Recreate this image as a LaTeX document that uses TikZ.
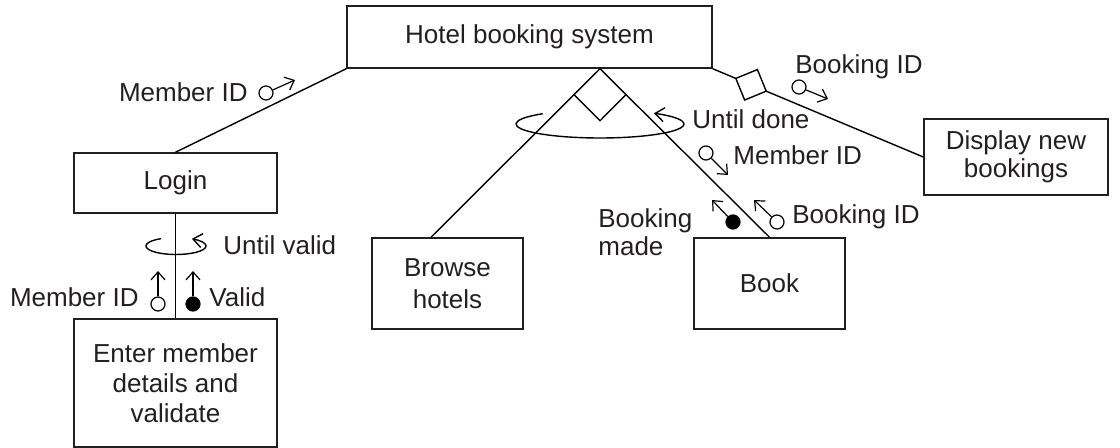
\documentclass[tikz,border=0pt]{standalone}
\usepackage{fontspec}
\setmainfont{Liberation Sans}
\usetikzlibrary{arrows.meta,calc}
\definecolor{ink}{HTML}{231F20}

\begin{document}
\begin{tikzpicture}[x=0.5pt,y=-0.5pt,
  every node/.style={font=\fontsize{13}{15}\selectfont, text=ink},
  box/.style={draw=ink, line width=0.75pt, align=center, inner sep=0pt},
  conn/.style={draw=black, line width=0.7pt},
  cplarrow/.style={line width=0.6pt, -{Straight Barb[length=4pt,width=7pt]}},
  opencpl/.style={circle, draw=black, line width=0.6pt, fill=white, minimum size=7pt, inner sep=0pt},
  fillcpl/.style={opencpl, fill=black},
  lbl/.style={inner sep=0pt},
  looparrow/.style={line width=0.7pt, -{Straight Barb[length=4.5pt,width=7pt]}},
]
\useasboundingbox (0,0) rectangle (1120,448);

% modules
\node[box, minimum width=182.5pt, minimum height=31pt] (hbs) at (529.5,37) {Hotel booking system};
\node[box, minimum width=101.5pt, minimum height=30pt] (login) at (175.5,183) {Login};
\node[box, minimum width=101.5pt, minimum height=64pt] (enter) at (175.5,383) {Enter member\\details and\\validate};
\node[box, minimum width=75.5pt, minimum height=45.5pt, font=\fontsize{13}{16}\selectfont] (browse) at (447.5,283.5) {Browse\\hotels};
\node[box, minimum width=75.5pt, minimum height=45.5pt] (book) at (769.5,283.5) {Book};
\node[box, minimum width=92pt, minimum height=38pt, font=\fontsize{13}{14}\selectfont] (display) at (1016,157) {Display new\\bookings};

% calls
\draw[conn] (hbs.south west) -- (login.north);
\draw[conn] (login.south) -- (enter.north);

% selection under the main module
\coordinate (apex) at ([xshift=35.25pt]hbs.south);
\coordinate (browsetop) at ([xshift=-8.25pt]browse.north);
\draw[conn] (browsetop) -- (apex) -- (book.north);
\draw[conn] ($(apex)!0.1535!(browsetop)$) -- ($(apex)+(0,52)$) -- ($(apex)!0.1535!(book.north)$);

% repetition loops
\coordinate (loopc) at (600,124);
\draw[looparrow] ([shift={(133:42pt and 7pt)}]loopc) arc[start angle=133, end angle=410, x radius=42pt, y radius=7pt];
\coordinate (loopv) at (176,246);
\draw[looparrow] ([shift={(120:15pt and 4.25pt)}]loopv) arc[start angle=120, end angle=418, x radius=15pt, y radius=4.25pt];

% selection on the display call
\coordinate (sA) at ($(hbs.south east)!12.5pt!(display.west)$);
\coordinate (sM) at ($(hbs.south east)!20.75pt!(display.west)$);
\coordinate (sC) at ($(hbs.south east)!29pt!(display.west)$);
\coordinate (sB) at ($(sM)!8.25pt!90:(sC)$);
\coordinate (sD) at ($(sM)!8.25pt!-90:(sC)$);
\draw[conn] (hbs.south east) -- (sA);
\draw[conn] (sA) -- (sB) -- (sC) -- (sD) -- cycle;
\draw[conn] (sC) -- (display.west);

% data and control couples
\node[opencpl] (c1) at (266,93) {};
\coordinate (c1t) at (295,80);
\draw[cplarrow] (c1) -- (c1t);
\node[lbl, anchor=base east] (l1) at (248,102) {Member ID};

\node[opencpl] (c2) at (158,304) {};
\coordinate (c2t) at (158,271);
\draw[cplarrow] (c2) -- (c2t);
\node[lbl, anchor=base east] (l2) at (139,307) {Member ID};

\node[fillcpl] (c3) at (193,304) {};
\coordinate (c3t) at (193,271);
\draw[cplarrow] (c3) -- (c3t);
\node[lbl, anchor=base west] (l3) at (209,307) {Valid};

\node[lbl, anchor=base west] (l4) at (223,255) {Until valid};
\node[lbl, anchor=base west] (l5) at (692,129) {Until done};

\node[opencpl] (c4) at (799,87) {};
\coordinate (c4t) at (828,99);
\draw[cplarrow] (c4) -- (c4t);
\node[lbl, anchor=base west] (l6) at (795,74) {Booking ID};

\node[opencpl] (c5) at (706,153) {};
\coordinate (c5t) at (728,175);
\draw[cplarrow] (c5) -- (c5t);
\node[lbl, anchor=base west] (l7) at (733,165) {Member ID};

\node[fillcpl] (c6) at (733,222) {};
\coordinate (c6t) at (712,200);
\draw[cplarrow] (c6) -- (c6t);
\node[lbl, anchor=west, align=left, font=\fontsize{13}{14}\selectfont] (l8) at (598,232) {Booking\\made};

\node[opencpl] (c7) at (777,222) {};
\coordinate (c7t) at (754,200);
\draw[cplarrow] (c7) -- (c7t);
\node[lbl, anchor=base west] (l9) at (792,224) {Booking ID};
\end{tikzpicture}
\end{document}
